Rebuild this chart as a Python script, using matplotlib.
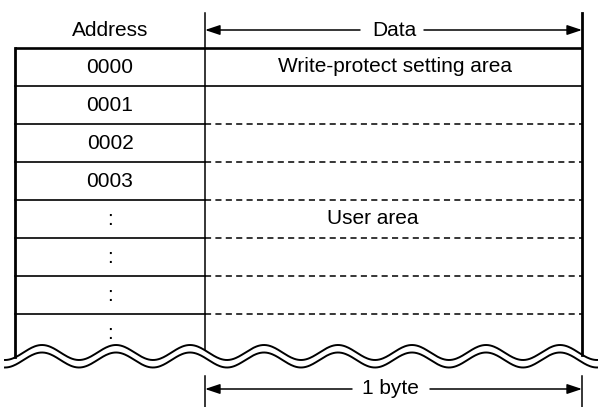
import matplotlib.pyplot as plt
import numpy as np

plt.rcParams['font.family'] = ['Liberation Sans', 'DejaVu Sans']

addresses = ['0000', '0001', '0002', '0003', ':', ':', ':', ':']
data_labels = ['Write-protect setting area', '', '', '', 'User area', '', '', '']
header_left = 'Address'
header_right = 'Data'
width_label = '1 byte'

# layout, in pixels of the 598x407 picture
x_left, x_mid, x_right = 15, 205, 582
y_top, row_h = 47.5, 38.0
period, amp = 74.0, 7.5


def wave(x, y0):
    return y0 - amp * np.cos(2 * np.pi * (x - 42) / period)


fig = plt.figure(figsize=(5.98, 4.07), dpi=100)
ax = fig.add_axes([0, 0, 1, 1])
ax.set_xlim(0, 598)
ax.set_ylim(407, 0)
ax.axis('off')

fs = 15
# header
ax.text((x_left + x_mid) / 2, 30, header_left, ha='center', va='center', fontsize=fs)
ax.text(394, 30, header_right, ha='center', va='center', fontsize=fs)
arrow = dict(arrowstyle='-|>,head_length=0.9,head_width=0.3', color='black', lw=1.1,
             shrinkA=0, shrinkB=0)
ax.annotate('', xy=(x_mid, 30), xytext=(360, 30), arrowprops=arrow)
ax.annotate('', xy=(x_right, 30), xytext=(424, 30), arrowprops=arrow)

# rows
for i, (addr, lab) in enumerate(zip(addresses, data_labels)):
    y = y_top + i * row_h
    yc = y + row_h / 2
    ax.text((x_left + x_mid) / 2, yc + 1, addr, ha='center', va='center', fontsize=fs)
    if lab:
        x_lab = 395 if i == 0 else 373
        ax.text(x_lab, yc, lab, ha='center', va='center', fontsize=fs)
    if i == 0:
        ax.plot([x_left, x_right], [y, y], color='black', lw=1.9, solid_capstyle='butt')
    elif i == 1:
        ax.plot([x_left, x_right], [y, y], color='black', lw=1.2)
    else:
        ax.plot([x_left, x_mid], [y, y], color='black', lw=1.2)
        ax.plot([x_mid, x_right], [y, y], color='black', lw=1.1, ls=(0, (4, 2.8)))

# vertical lines ending at the break
ax.plot([x_left, x_left], [y_top, wave(x_left, 352.5)], color='black', lw=2.0)
ax.plot([x_mid, x_mid], [13, wave(x_mid, 352.5)], color='black', lw=1.1)
ax.plot([x_right, x_right], [13, wave(x_right, 352.5)], color='black', lw=2.0)

# wavy break
xs = np.linspace(5, 598, 600)
ax.plot(xs, wave(xs, 352.5), color='black', lw=1.4)
ax.plot(xs, wave(xs, 360), color='black', lw=1.4)

# bottom dimension
ax.plot([x_mid, x_mid], [376, 407], color='black', lw=1.1)
ax.plot([x_right, x_right], [376, 407], color='black', lw=1.1)
ax.text(390, 389, width_label, ha='center', va='center', fontsize=fs)
ax.annotate('', xy=(x_mid, 389), xytext=(352, 389), arrowprops=arrow)
ax.annotate('', xy=(x_right, 389), xytext=(430, 389), arrowprops=arrow)

fig.savefig('out.png', dpi=100)
